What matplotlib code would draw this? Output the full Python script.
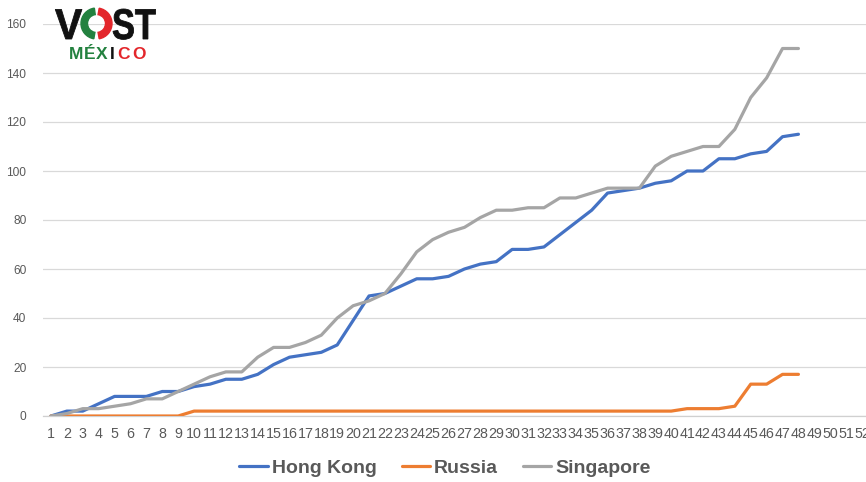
import matplotlib
matplotlib.use("Agg")
import matplotlib.pyplot as plt
from matplotlib.patches import Wedge, PathPatch
from matplotlib.textpath import TextPath
from matplotlib.font_manager import FontProperties
from matplotlib.transforms import Affine2D

# data
days = list(range(1, 53))
hong_kong = [0, 2, 2, 5, 8, 8, 8, 10, 10, 12,
             13, 15, 15, 17, 21, 24, 25, 26, 29, 39,
             49, 50, 53, 56, 56, 57, 60, 62, 63, 68,
             68, 69, 74, 79, 84, 91, 92, 93, 95, 96,
             100, 100, 105, 105, 107, 108, 114, 115]
russia = [0] * 9 + [2] * 31 + [3, 3, 3, 4, 13, 13, 17, 17]
singapore = [0, 1, 3, 3, 4, 5, 7, 7, 10, 13,
             16, 18, 18, 24, 28, 28, 30, 33, 40, 45,
             47, 50, 58, 67, 72, 75, 77, 81, 84, 84,
             85, 85, 89, 89, 91, 93, 93, 93, 102, 106,
             108, 110, 110, 117, 130, 138, 150, 150]
y_ticks = [0, 20, 40, 60, 80, 100, 120, 140, 160]

series = [("Hong Kong", hong_kong, "#4472C4"),
          ("Russia", russia, "#ED7D31"),
          ("Singapore", singapore, "#A5A5A5")]

plt.rcParams["font.family"] = ["Liberation Sans", "DejaVu Sans"]

W, H = 866, 482
fig = plt.figure(figsize=(W / 100, H / 100), dpi=100)
fig.patch.set_facecolor("white")

# plot area runs off the right edge like the cropped original
ax = fig.add_axes([43 / W, (H - 416) / H, 827 / W, 392 / H])

for name, vals, col in series:
    ax.plot(days[:len(vals)], vals, color=col, lw=2.3, label=name,
            solid_joinstyle="round", solid_capstyle="round", zorder=3)

ax.set_xlim(0.5, len(days) + 0.5)
ax.set_ylim(0, 160)
ax.set_xticks(days)
ax.set_xticklabels([str(d) for d in days], fontsize=10.3, color="#595959")
ax.set_yticks(y_ticks)
ax.set_yticklabels([str(v) for v in y_ticks], fontsize=8.6, color="#595959")
ax.tick_params(axis="x", length=0, pad=8)
ax.tick_params(axis="y", length=0, pad=12)
ax.grid(axis="y", color="#D9D9D9", lw=0.9)
ax.set_axisbelow(True)
for s in ["top", "right", "left"]:
    ax.spines[s].set_visible(False)
ax.spines["bottom"].set_color("#D0D0D0")
ax.spines["bottom"].set_linewidth(0.9)

leg = fig.legend(loc="center", bbox_to_anchor=(445 / W, (H - 468) / H),
                 ncol=3, frameon=False, handlelength=1.45, handletextpad=0.2,
                 columnspacing=1.3,
                 prop={"family": "Liberation Sans", "weight": "bold", "size": 14})
for t in leg.get_texts():
    t.set_color("#595959")
for l in leg.get_lines():
    l.set_linewidth(2.3)

# VOST México logo, drawn in pixel space
lg = fig.add_axes([0, 0, 1, 1], zorder=5)
lg.set_xlim(0, W)
lg.set_ylim(H, 0)
lg.axis("off")
lg.patch.set_alpha(0)

green = "#23813F"
red = "#E3262B"
bold = FontProperties(family="Liberation Sans", weight="bold")


def glyphs(s, x0, base, size, sx):
    # condensed letters: scale the text outline in x only
    tp = TextPath((0, 0), s, size=size, prop=bold)
    tr = Affine2D().scale(sx, -1).translate(x0, base)
    lg.add_patch(PathPatch(tr.transform_path(tp), color="#111111", lw=0.6))


glyphs("V", 55, 39, 43, 0.95)
glyphs("ST", 112, 39, 43, 0.8)
lg.add_patch(Wedge((96.5, 23.5), 15.5, 100, 262, width=6.5, color=green))
lg.add_patch(Wedge((96.5, 23.5), 15.5, -80, 80, width=6.5, color=red))

small = dict(fontsize=12.5, fontweight="bold", ha="center", va="baseline")
for ch, cx, col in [("M", 76.5, green), ("É", 90, green), ("X", 102, green),
                    ("I", 112, "#111111"), ("C", 123, red), ("O", 139, red)]:
    lg.text(cx, 59, ch, color=col, **small)

fig.savefig("out.png", dpi=100)
